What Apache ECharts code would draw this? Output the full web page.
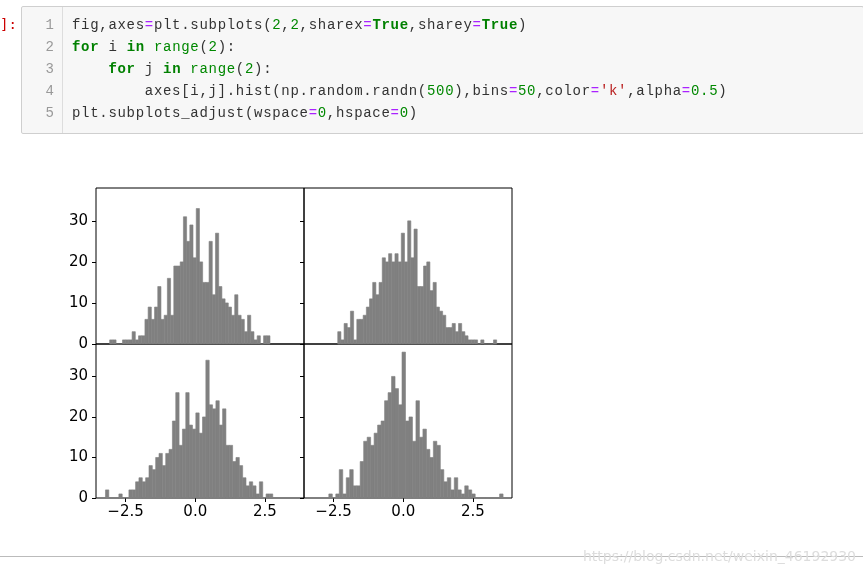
<!DOCTYPE html>
<html>
<head>
<meta charset="utf-8">
<script src="https://cdn.jsdelivr.net/npm/echarts@6/dist/echarts.min.js"></script>
<style>
body{margin:0;background:#fff;}
#chart{position:absolute;left:0;top:0;width:863px;height:575px;}
#cell{position:absolute;left:21px;top:6px;width:841px;height:126px;border:1px solid #cfcfcf;background:#f7f7f7;border-radius:2px;}
#prompt{position:absolute;left:0;top:16px;font-family:"DejaVu Sans Mono",monospace;font-size:14px;color:#c00;}
.ln{position:absolute;left:4px;width:28px;text-align:right;color:#999;font-family:"Liberation Mono","DejaVu Sans Mono",monospace;font-size:14px;}
.code{position:absolute;left:50px;white-space:pre;font-family:"Liberation Mono","DejaVu Sans Mono",monospace;font-size:14px;letter-spacing:0.7px;color:#333;}
#gut{position:absolute;left:40px;top:0;width:1px;height:126px;background:#ddd;}
.k{color:#008000;font-weight:bold}.n{color:#080}.s{color:#ba2121}.o{color:#a2f}
#hr{position:absolute;left:0;top:556px;width:863px;height:1px;background:#bbb;}
#wm{position:absolute;left:583px;top:548px;font-family:"DejaVu Sans";font-size:14px;color:#ddd;}
</style>
</head>
<body>
<div id="chart"></div>
<div id="prompt">]:</div>
<div id="cell">
<div id="gut"></div>
<div class="ln" style="top:10px">1</div><div class="code" style="top:10px">fig,axes<span class="o">=</span>plt.subplots(<span class="n">2</span>,<span class="n">2</span>,sharex<span class="o">=</span><span class="k">True</span>,sharey<span class="o">=</span><span class="k">True</span>)</div>
<div class="ln" style="top:32px">2</div><div class="code" style="top:32px"><span class="k">for</span> i <span class="k">in</span> <span class="n">range</span>(<span class="n">2</span>):</div>
<div class="ln" style="top:54px">3</div><div class="code" style="top:54px">    <span class="k">for</span> j <span class="k">in</span> <span class="n">range</span>(<span class="n">2</span>):</div>
<div class="ln" style="top:76px">4</div><div class="code" style="top:76px">        axes[i,j].hist(np.random.randn(<span class="n">500</span>),bins<span class="o">=</span><span class="n">50</span>,color<span class="o">=</span><span class="s">'k'</span>,alpha<span class="o">=</span><span class="n">0.5</span>)</div>
<div class="ln" style="top:98px">5</div><div class="code" style="top:98px">plt.subplots_adjust(wspace<span class="o">=</span><span class="n">0</span>,hspace<span class="o">=</span><span class="n">0</span>)</div>
</div>
<div id="hr"></div>
<div id="wm">https://blog.csdn.net/weixin_46192930</div>
<script>
// bin starts / widths and counts per panel
var binStart = [-3.07, -2.35, -3.22, -2.67];
var binWidth = [0.115, 0.114, 0.12, 0.125];
var counts0 = [1,1,0,0,1,1,1,3,1,2,2,6,9,6,9,14,6,7,16,7,19,19,20,31,25,29,21,33,20,15,15,25,12,27,14,11,10,9,7,12,7,6,3,7,3,1,2,0,2,2];
var counts1 = [3,1,5,4,8,1,6,6,7,9,11,15,12,15,21,20,22,20,22,20,27,20,30,21,28,14,14,19,20,13,15,9,8,7,4,4,5,3,5,3,2,1,1,1,0,1,0,0,0,1];
var counts2 = [2,0,0,0,1,0,0,2,2,4,5,4,5,8,7,10,11,8,11,12,19,26,13,17,26,18,17,21,16,20,34,23,22,24,18,22,13,13,9,10,8,5,3,4,3,1,4,0,1,1];
var counts3 = [1,0,1,7,1,5,7,3,3,9,14,15,13,16,18,19,24,26,30,27,23,36,19,20,14,24,15,17,12,10,14,13,7,4,5,2,5,2,1,3,2,1,0,0,0,0,0,0,0,1];
var allCounts = [counts0, counts1, counts2, counts3];
var xTicks = [-2.5, 0, 2.5];
var yTicks = [0, 10, 20, 30];

var chart = echarts.init(document.getElementById('chart'));
var grids = [], xAxes = [], yAxes = [], series = [];
var lab = {fontFamily:'DejaVu Sans', fontSize:15, color:'#000'};
for (var p = 0; p < 4; p++) {
  var col = p % 2, row = Math.floor(p / 2);
  grids.push({left: 96 + col * 208, top: row ? 344 : 188, width: 208, height: row ? 154 : 156,
    show: true, borderColor: '#000', borderWidth: 1});
  xAxes.push({type:'value', gridIndex:p, min:-3.56, max:3.9, position:'bottom',
    splitLine:{show:false}, axisLine:{show:false, onZero:false},
    axisTick:{show: row == 1, customValues: xTicks, length:4, lineStyle:{color:'#000'}},
    axisLabel:{show: row == 1, customValues: xTicks, margin:7, formatter:function(v){return v.toFixed(1).replace('-', '\u2212');}, fontFamily:lab.fontFamily, fontSize:lab.fontSize, color:lab.color}});
  yAxes.push({type:'value', gridIndex:p, min:0, max:38, position:'left',
    splitLine:{show:false}, axisLine:{show:false, onZero:false},
    axisTick:{show:true, customValues: yTicks, length:4, lineStyle:{color:'#000'}},
    axisLabel:{show: col == 0, customValues: yTicks, margin:8, fontFamily:lab.fontFamily, fontSize:lab.fontSize, color:lab.color}});
  var d = allCounts[p].map(function(c, i){ return [binStart[p] + i * binWidth[p], c, binWidth[p]]; });
  series.push({type:'custom', xAxisIndex:p, yAxisIndex:p, data:d, silent:true,
    renderItem: function(params, api){
      var x0 = api.value(0), h = api.value(1), w = api.value(2);
      var a = api.coord([x0, 0]), b = api.coord([x0 + w, h]);
      return {type:'rect', shape:{x:a[0], y:b[1], width:b[0]-a[0], height:a[1]-b[1]},
        style:{fill:'#808080', stroke:'#808080', lineWidth:0.6}};
    }});
}
chart.setOption({animation:false, grid:grids, xAxis:xAxes, yAxis:yAxes, series:series});
</script>
</body>
</html>
